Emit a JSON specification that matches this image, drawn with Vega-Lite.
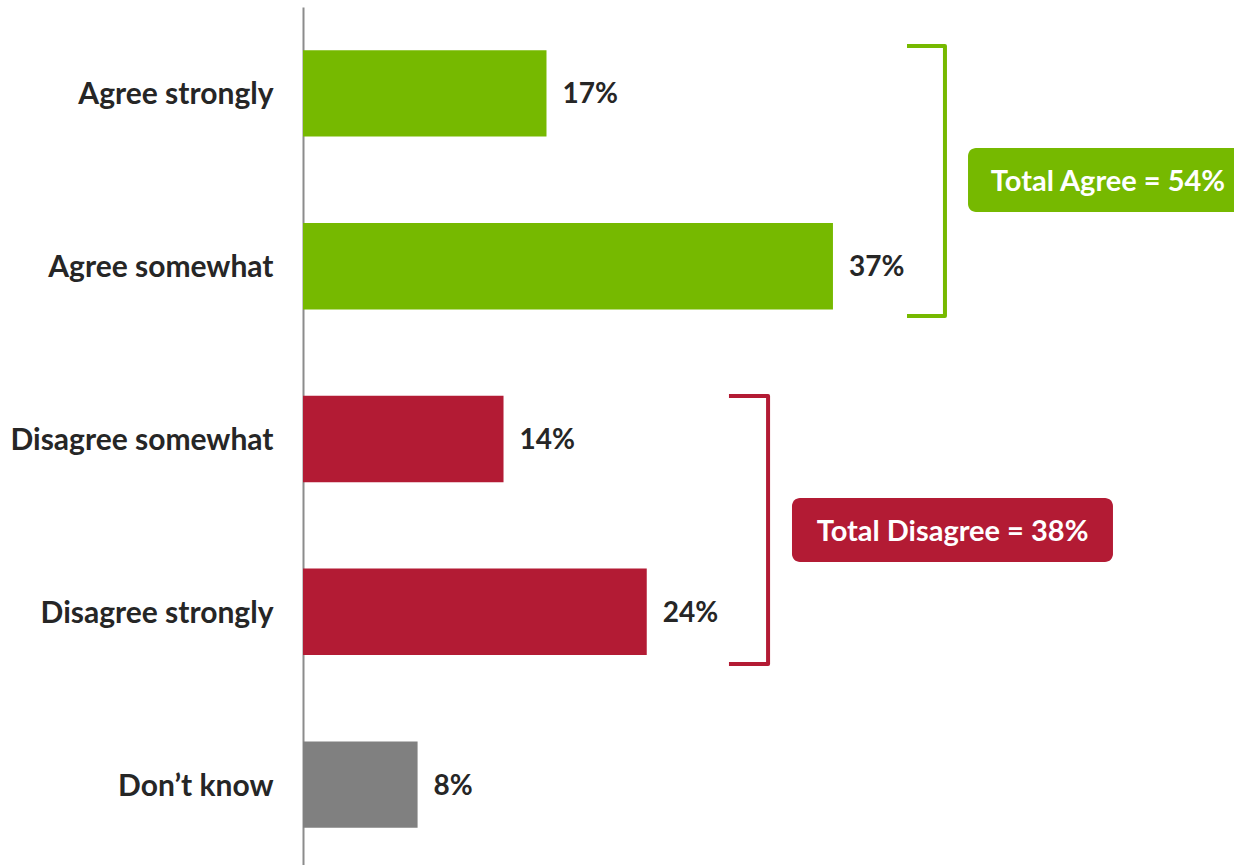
{
  "$schema": "https://vega.github.io/schema/vega-lite/v6.json",
  "width": 931,
  "height": 864,
  "autosize": {"type": "none"},
  "padding": {"left": 303, "top": 7, "right": 0, "bottom": 0},
  "background": "white",
  "config": {"view": {"stroke": null}, "font": "Lato"},
  "datasets": {
    "bars": [
      {"response": "Agree strongly", "group": "agree", "value": 17, "label": "17%"},
      {"response": "Agree somewhat", "group": "agree", "value": 37, "label": "37%"},
      {"response": "Disagree somewhat", "group": "disagree", "value": 14, "label": "14%"},
      {"response": "Disagree strongly", "group": "disagree", "value": 24, "label": "24%"},
      {"response": "Don’t know", "group": "dk", "value": 8, "label": "8%"}
    ],
    "brackets": [
      {"group": "agree", "order": 1, "x": 42.17, "y": -0.274},
      {"group": "agree", "order": 2, "x": 44.82, "y": -0.274},
      {"group": "agree", "order": 3, "x": 44.82, "y": 1.288},
      {"group": "agree", "order": 4, "x": 42.17, "y": 1.288},
      {"group": "disagree", "order": 1, "x": 29.74, "y": 1.751},
      {"group": "disagree", "order": 2, "x": 32.47, "y": 1.751},
      {"group": "disagree", "order": 3, "x": 32.47, "y": 3.302},
      {"group": "disagree", "order": 4, "x": 29.74, "y": 3.302}
    ],
    "boxes": [
      {"group": "agree", "text": "Total Agree = 54%", "x": 46.43, "x2": 66, "y": 0.316, "y2": 0.686, "tx": 56.2, "ty": 0.501},
      {"group": "disagree", "text": "Total Disagree = 38%", "x": 34.14, "x2": 56.55, "y": 2.341, "y2": 2.712, "tx": 45.35, "ty": 2.527}
    ]
  },
  "layer": [
    {
      "data": {"name": "bars"},
      "encoding": {
        "y": {
          "field": "response",
          "type": "nominal",
          "sort": null,
          "scale": {"paddingInner": 0.5, "paddingOuter": 0.25},
          "axis": {
            "title": null,
            "ticks": false,
            "domainColor": "#8c8c8c",
            "domainWidth": 2,
            "labelFont": "Lato",
            "labelFontWeight": "bold",
            "labelFontSize": 30,
            "labelColor": "#262626",
            "labelPadding": 30,
            "labelOffset": 2,
            "labelLimit": 400
          }
        },
        "x": {
          "field": "value",
          "type": "quantitative",
          "scale": {"domain": [0, 65], "nice": false, "zero": true},
          "axis": null
        }
      },
      "layer": [
        {
          "mark": {"type": "bar"},
          "encoding": {
            "color": {
              "field": "group",
              "type": "nominal",
              "scale": {"domain": ["agree", "disagree", "dk"], "range": ["#76B900", "#B31B34", "#808080"]},
              "legend": null
            }
          }
        },
        {
          "mark": {"type": "text", "align": "left", "baseline": "middle", "dx": 16, "dy": 2, "font": "Lato", "fontWeight": "bold", "fontSize": 28, "color": "#262626"},
          "encoding": {"text": {"field": "label"}}
        }
      ]
    },
    {
      "data": {"name": "brackets"},
      "mark": {"type": "line", "strokeWidth": 4, "strokeJoin": "round", "strokeCap": "butt"},
      "encoding": {
        "x": {"field": "x", "type": "quantitative"},
        "y": {"field": "y", "type": "quantitative", "scale": {"domain": [-0.5, 4.5], "reverse": true, "nice": false, "zero": false}, "axis": null},
        "order": {"field": "order"},
        "detail": {"field": "group"},
        "color": {
          "field": "group",
          "type": "nominal",
          "scale": {"domain": ["agree", "disagree", "dk"], "range": ["#76B900", "#B31B34", "#808080"]},
          "legend": null
        }
      }
    },
    {
      "data": {"name": "boxes"},
      "layer": [
        {
          "mark": {"type": "rect", "cornerRadius": 8},
          "encoding": {
            "x": {"field": "x", "type": "quantitative"},
            "x2": {"field": "x2"},
            "y": {"field": "y", "type": "quantitative", "scale": {"domain": [-0.5, 4.5], "reverse": true, "nice": false, "zero": false}, "axis": null},
            "y2": {"field": "y2"},
            "color": {
              "field": "group",
              "type": "nominal",
              "scale": {"domain": ["agree", "disagree", "dk"], "range": ["#76B900", "#B31B34", "#808080"]},
              "legend": null
            }
          }
        },
        {
          "mark": {"type": "text", "align": "center", "baseline": "middle", "dy": 2, "font": "Lato", "fontWeight": "bold", "fontSize": 29, "color": "white"},
          "encoding": {
            "x": {"field": "tx", "type": "quantitative"},
            "y": {"field": "ty", "type": "quantitative", "scale": {"domain": [-0.5, 4.5], "reverse": true, "nice": false, "zero": false}, "axis": null},
            "text": {"field": "text"}
          }
        }
      ]
    }
  ],
  "resolve": {"scale": {"y": "independent"}}
}
